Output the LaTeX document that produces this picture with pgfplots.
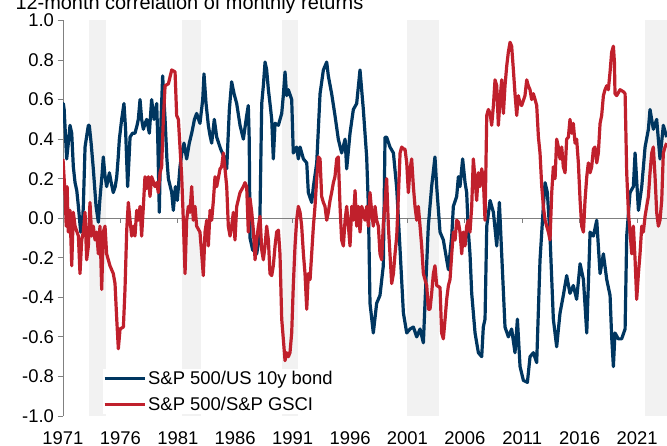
\documentclass[border=0pt]{standalone}
\usepackage{fontspec}
\setmainfont{Liberation Sans}
\usepackage{pgfplots}
\usepackage{pgfplotstable}
\pgfplotsset{compat=1.18}

\definecolor{bondblue}{HTML}{003660}
\definecolor{gscired}{HTML}{C0202C}
\definecolor{bandgray}{HTML}{F2F2F2}
\definecolor{axisgray}{HTML}{808080}

% 12m rolling correlation, S&P 500 vs US 10y bond
\pgfplotstableread{
year corr
1971.00 0.50
1971.03 0.58
1971.10 0.55
1971.17 0.47
1971.32 0.30
1971.50 0.40
1971.61 0.47
1971.76 0.43
1971.90 0.26
1972.05 0.18
1972.20 0.14
1972.34 0.06
1972.54 -0.07
1972.70 -0.02
1972.77 0.06
1972.92 0.36
1973.10 0.43
1973.21 0.47
1973.29 0.47
1973.45 0.38
1973.64 0.25
1973.88 0.06
1974.08 -0.02
1974.22 0.10
1974.40 0.22
1974.51 0.31
1974.65 0.22
1974.80 0.16
1975.04 0.23
1975.20 0.18
1975.38 0.13
1975.55 0.16
1975.68 0.21
1975.80 0.30
1975.91 0.40
1976.11 0.50
1976.31 0.58
1976.45 0.45
1976.63 0.16
1976.75 0.30
1976.84 0.41
1977.05 0.43
1977.27 0.43
1977.45 0.47
1977.56 0.50
1977.71 0.60
1977.85 0.50
1978.00 0.45
1978.15 0.48
1978.29 0.50
1978.52 0.43
1978.72 0.60
1978.93 0.50
1979.16 0.58
1979.25 0.41
1979.39 0.03
1979.54 0.50
1979.68 0.72
1979.89 0.50
1980.05 0.30
1980.18 0.20
1980.47 0.13
1980.61 0.04
1980.79 0.16
1980.96 0.09
1981.19 0.26
1981.35 0.33
1981.54 0.38
1981.77 0.30
1982.00 0.38
1982.21 0.43
1982.45 0.50
1982.64 0.53
1982.93 0.48
1983.17 0.60
1983.28 0.73
1983.46 0.58
1983.66 0.47
1983.80 0.42
1983.95 0.38
1984.18 0.50
1984.39 0.41
1984.73 0.35
1985.03 0.31
1985.26 0.25
1985.49 0.55
1985.69 0.69
1985.90 0.63
1986.13 0.58
1986.42 0.47
1986.71 0.40
1987.00 0.52
1987.14 0.57
1987.22 0.40
1987.29 -0.10
1987.52 -0.16
1987.87 -0.18
1988.10 -0.10
1988.16 0.03
1988.31 0.58
1988.45 0.67
1988.60 0.79
1988.74 0.75
1988.89 0.65
1989.03 0.58
1989.18 0.50
1989.32 0.30
1989.47 0.48
1989.76 0.47
1990.05 0.53
1990.19 0.62
1990.34 0.74
1990.48 0.62
1990.63 0.65
1990.92 0.60
1991.06 0.33
1991.35 0.36
1991.50 0.30
1991.65 0.36
1991.94 0.30
1992.23 0.28
1992.37 0.13
1992.66 0.08
1992.81 0.16
1993.10 0.28
1993.39 0.63
1993.68 0.75
1993.97 0.79
1994.11 0.72
1994.40 0.63
1994.69 0.52
1994.98 0.40
1995.27 0.33
1995.57 0.40
1995.71 0.25
1996.00 0.43
1996.29 0.55
1996.58 0.58
1996.87 0.75
1997.16 0.55
1997.45 0.31
1997.60 0.06
1997.74 -0.43
1998.03 -0.58
1998.32 -0.43
1998.61 -0.39
1998.90 -0.24
1999.05 0.41
1999.19 0.41
1999.48 0.36
1999.78 0.33
2000.07 0.15
2000.36 -0.16
2000.65 -0.48
2000.94 -0.58
2001.23 -0.56
2001.52 -0.55
2001.81 -0.60
2002.10 -0.56
2002.39 -0.63
2002.53 -0.43
2002.82 -0.04
2003.11 0.16
2003.40 0.31
2003.55 0.16
2003.84 -0.07
2004.13 -0.11
2004.42 -0.21
2004.57 -0.26
2004.86 -0.09
2005.00 0.06
2005.29 0.11
2005.44 0.21
2005.58 0.16
2005.81 0.30
2006.02 0.18
2006.16 0.13
2006.31 -0.07
2006.45 -0.18
2006.60 -0.38
2006.89 -0.58
2007.18 -0.68
2007.47 -0.70
2007.61 -0.55
2007.76 -0.51
2007.91 -0.04
2008.20 0.09
2008.49 0.03
2008.78 -0.14
2009.01 0.08
2009.21 -0.18
2009.50 -0.55
2009.79 -0.60
2010.08 -0.56
2010.37 -0.68
2010.58 -0.51
2010.81 -0.75
2011.10 -0.82
2011.45 -0.83
2011.68 -0.70
2011.97 -0.68
2012.26 -0.73
2012.55 -0.21
2012.84 0.06
2012.99 0.18
2013.19 0.13
2013.42 -0.09
2013.71 -0.51
2014.00 -0.65
2014.29 -0.48
2014.58 -0.39
2014.87 -0.29
2015.16 -0.38
2015.45 -0.34
2015.74 -0.41
2016.04 -0.23
2016.33 -0.31
2016.62 -0.58
2016.91 -0.07
2017.20 -0.09
2017.49 -0.01
2017.78 -0.28
2018.07 -0.18
2018.36 -0.31
2018.65 -0.39
2018.79 -0.60
2018.94 -0.75
2019.08 -0.58
2019.37 -0.61
2019.66 -0.61
2019.96 -0.56
2020.10 -0.09
2020.39 0.13
2020.68 0.16
2020.83 0.33
2021.12 0.04
2021.41 0.16
2021.70 0.36
2021.99 0.45
2022.13 0.55
2022.42 0.45
2022.71 0.50
2023.00 0.30
2023.29 0.47
2023.58 0.41
}\bonddata

% 12m rolling correlation, S&P 500 vs S&P GSCI
\pgfplotstableread{
year corr
1971.00 0.30
1971.05 0.25
1971.12 0.18
1971.20 0.10
1971.28 -0.04
1971.36 0.16
1971.46 -0.07
1971.61 0.04
1971.76 -0.24
1971.90 0.03
1972.05 -0.04
1972.34 -0.09
1972.48 -0.28
1972.63 -0.11
1972.77 -0.07
1972.92 0.03
1973.06 -0.21
1973.21 -0.14
1973.35 0.08
1973.50 -0.09
1973.64 -0.04
1973.79 -0.11
1973.93 -0.07
1974.08 -0.18
1974.22 -0.04
1974.37 -0.36
1974.51 -0.07
1974.66 -0.04
1974.80 -0.18
1975.09 -0.24
1975.38 -0.28
1975.53 -0.33
1975.68 -0.51
1975.82 -0.66
1975.97 -0.56
1976.26 -0.55
1976.40 -0.36
1976.55 -0.06
1976.69 0.08
1976.84 -0.01
1976.98 -0.09
1977.13 -0.04
1977.27 -0.09
1977.42 0.04
1977.56 -0.01
1977.71 0.06
1977.85 -0.09
1978.00 0.06
1978.14 0.21
1978.29 0.15
1978.43 0.21
1978.58 0.11
1978.72 0.21
1979.01 0.16
1979.16 0.18
1979.30 0.13
1979.45 0.23
1979.59 0.26
1979.74 0.50
1979.89 0.67
1980.18 0.68
1980.47 0.75
1980.76 0.74
1980.90 0.52
1981.05 0.50
1981.19 0.36
1981.34 0.21
1981.48 -0.01
1981.63 -0.28
1981.77 -0.01
1981.92 0.06
1982.06 0.03
1982.21 0.16
1982.35 -0.01
1982.50 0.06
1982.64 -0.04
1982.93 -0.07
1983.08 -0.18
1983.22 -0.29
1983.37 -0.07
1983.52 -0.01
1983.66 -0.14
1983.81 0.04
1983.95 -0.01
1984.10 0.09
1984.24 0.21
1984.39 0.16
1984.68 0.25
1984.82 0.26
1984.97 0.33
1985.11 0.25
1985.26 0.16
1985.40 -0.04
1985.55 -0.09
1985.69 -0.04
1985.84 0.03
1985.98 -0.11
1986.13 0.06
1986.42 0.13
1986.71 0.16
1986.85 0.18
1987.00 0.16
1987.14 -0.07
1987.29 0.10
1987.44 0.03
1987.58 -0.06
1987.73 -0.21
1987.87 -0.11
1988.02 -0.04
1988.16 0.01
1988.31 -0.16
1988.45 -0.21
1988.60 -0.14
1988.74 -0.04
1988.89 -0.11
1989.03 -0.28
1989.18 -0.29
1989.32 -0.24
1989.47 -0.14
1989.61 -0.07
1989.76 -0.06
1989.90 -0.18
1990.05 -0.51
1990.19 -0.61
1990.34 -0.72
1990.48 -0.68
1990.63 -0.70
1990.77 -0.68
1990.92 -0.58
1991.06 -0.34
1991.21 -0.14
1991.35 -0.01
1991.50 0.06
1991.65 0.03
1991.79 -0.04
1991.94 -0.18
1992.08 -0.28
1992.23 -0.46
1992.37 -0.28
1992.52 -0.31
1992.66 -0.18
1992.81 -0.04
1992.95 0.06
1993.10 0.20
1993.24 0.31
1993.39 0.30
1993.53 0.11
1993.68 0.08
1993.82 0.06
1993.97 -0.01
1994.11 0.03
1994.26 0.09
1994.40 0.13
1994.55 0.18
1994.69 0.21
1994.84 0.30
1994.98 0.31
1995.13 0.06
1995.27 -0.11
1995.42 -0.14
1995.57 -0.01
1995.71 0.06
1995.86 -0.04
1996.00 -0.14
1996.15 0.06
1996.29 -0.01
1996.44 0.14
1996.58 -0.04
1996.73 0.06
1996.87 -0.07
1997.02 0.06
1997.16 0.03
1997.31 -0.01
1997.45 0.06
1997.60 -0.04
1997.74 0.13
1997.89 0.03
1998.03 -0.04
1998.18 0.06
1998.32 -0.01
1998.47 -0.04
1998.61 -0.18
1998.76 -0.21
1998.90 -0.03
1999.05 0.08
1999.19 0.20
1999.34 -0.04
1999.48 -0.18
1999.63 -0.33
1999.78 -0.28
1999.92 -0.18
2000.07 -0.09
2000.21 0.11
2000.36 0.33
2000.50 0.36
2000.65 0.35
2000.79 0.35
2000.94 0.28
2001.08 0.13
2001.23 0.25
2001.37 0.30
2001.52 0.16
2001.66 0.06
2001.81 -0.01
2001.95 0.06
2002.10 -0.04
2002.24 -0.14
2002.39 -0.28
2002.53 -0.31
2002.68 -0.34
2002.82 -0.46
2002.97 -0.46
2003.11 -0.38
2003.26 -0.28
2003.40 -0.24
2003.55 -0.34
2003.84 -0.35
2003.98 -0.58
2004.13 -0.61
2004.28 -0.51
2004.42 -0.41
2004.57 -0.34
2004.71 -0.31
2004.86 -0.18
2005.00 -0.07
2005.15 -0.11
2005.29 -0.01
2005.44 -0.02
2005.58 -0.07
2005.73 -0.18
2005.87 -0.07
2006.02 -0.14
2006.16 -0.04
2006.31 -0.01
2006.45 -0.07
2006.60 0.06
2006.74 0.30
2006.89 0.20
2007.03 0.09
2007.18 0.23
2007.32 0.16
2007.47 0.25
2007.61 0.20
2007.76 -0.01
2007.91 0.52
2008.05 0.55
2008.20 0.53
2008.34 0.47
2008.49 0.57
2008.63 0.70
2008.78 0.67
2008.92 0.47
2009.07 0.60
2009.21 0.70
2009.36 0.53
2009.50 0.67
2009.65 0.77
2009.79 0.84
2009.94 0.89
2010.08 0.87
2010.23 0.75
2010.37 0.63
2010.52 0.52
2010.66 0.62
2010.81 0.58
2010.95 0.57
2011.24 0.62
2011.39 0.70
2011.53 0.67
2011.68 0.65
2011.82 0.60
2011.97 0.63
2012.12 0.60
2012.26 0.57
2012.41 0.41
2012.55 0.33
2012.70 0.16
2012.84 0.06
2012.99 -0.01
2013.13 -0.04
2013.28 -0.07
2013.42 -0.11
2013.57 0.13
2013.71 0.26
2013.86 0.20
2014.00 0.40
2014.15 0.36
2014.29 0.30
2014.44 0.36
2014.58 0.26
2014.73 0.23
2014.87 0.40
2015.02 0.41
2015.16 0.50
2015.31 0.43
2015.45 0.48
2015.60 0.38
2015.74 0.40
2015.89 0.28
2016.04 0.09
2016.18 -0.04
2016.33 -0.07
2016.47 0.09
2016.62 0.21
2016.76 0.28
2016.91 0.23
2017.05 0.26
2017.20 0.35
2017.34 0.36
2017.49 0.28
2017.63 0.33
2017.78 0.48
2017.92 0.52
2018.07 0.62
2018.21 0.65
2018.36 0.67
2018.50 0.65
2018.65 0.74
2018.79 0.84
2018.94 0.87
2019.03 0.79
2019.08 0.63
2019.23 0.62
2019.52 0.65
2019.81 0.64
2019.96 0.63
2020.10 0.23
2020.25 0.03
2020.39 -0.07
2020.54 -0.18
2020.68 -0.04
2020.83 -0.21
2020.97 -0.41
2021.12 -0.28
2021.26 -0.18
2021.41 -0.04
2021.55 -0.07
2021.70 0.01
2021.84 0.06
2021.99 0.11
2022.13 0.23
2022.28 0.33
2022.42 0.36
2022.57 0.21
2022.71 0.03
2022.86 -0.04
2023.00 -0.01
2023.15 0.09
2023.29 0.33
2023.44 0.36
2023.58 0.38
}\gscidata

\begin{document}
\begin{tikzpicture}
\begin{axis}[
    at={(63bp,30bp)}, anchor=south west,
    scale only axis, width=604bp, height=395.5bp,
    xmin=1971, xmax=2023.61, ymin=-1, ymax=1,
    axis lines*=left,
    x axis line style={draw=none},
    y axis line style={axisgray, line width=0.8bp},
    xtick={1971,1976,1981,1986,1991,1996,2001,2006,2011,2016,2021},
    xticklabels={1971,1976,1981,1986,1991,1996,2001,2006,2011,2016,2021},
    ytick={-1,-0.8,-0.6,-0.4,-0.2,0,0.2,0.4,0.6,0.8,1},
    yticklabels={-1.0,-0.8,-0.6,-0.4,-0.2,0.0,0.2,0.4,0.6,0.8,1.0},
    tick align=outside,
    major tick length=5.5bp,
    x tick style={draw=none},
    y tick style={axisgray, line width=0.8bp},
    ticklabel style={font=\fontsize{18.5}{22}\selectfont},
    xticklabel style={yshift=-7bp},
    unbounded coords=jump,
    legend style={at={(axis description cs:0.0662,0.118)}, anchor=north west,
        draw=none, fill=white, inner sep=0pt, outer sep=0pt,
        row sep=6.5bp, column sep=0pt, nodes={inner sep=2bp},
        font=\fontsize{18.5}{22}\selectfont},
    legend cell align=left,
    legend image code/.code={\draw[#1, line width=3.2bp] (0bp,0bp) -- (40bp,0bp);},
]
% shaded periods
\addplot[fill=bandgray, draw=none, forget plot] coordinates {(1973.26,-1) (1973.26,1) (1974.75,1) (1974.75,-1)};
\addplot[fill=bandgray, draw=none, forget plot] coordinates {(1981.37,-1) (1981.37,1) (1983.02,1) (1983.02,-1)};
\addplot[fill=bandgray, draw=none, forget plot] coordinates {(1990.08,-1) (1990.08,1) (1991.47,1) (1991.47,-1)};
\addplot[fill=bandgray, draw=none, forget plot] coordinates {(2000.97,-1) (2000.97,1) (2003.75,1) (2003.75,-1)};
\addplot[fill=bandgray, draw=none, forget plot] coordinates {(2021.70,-1) (2021.70,1) (2024,1) (2024,-1)};
% zero line with its ticks
\addplot[axisgray, line width=0.9bp, forget plot] coordinates {(1971,0) (2023.61,0)};
\addplot[axisgray, line width=0.8bp, forget plot] coordinates {
    (1976,0) (1976,-0.022) (1976,nan)
    (1981,0) (1981,-0.022) (1981,nan)
    (1986,0) (1986,-0.022) (1986,nan)
    (1991,0) (1991,-0.022) (1991,nan)
    (1996,0) (1996,-0.022) (1996,nan)
    (2001,0) (2001,-0.022) (2001,nan)
    (2006,0) (2006,-0.022) (2006,nan)
    (2011,0) (2011,-0.022) (2011,nan)
    (2016,0) (2016,-0.022) (2016,nan)
    (2021,0) (2021,-0.022)};
\addplot[bondblue, line width=3.2bp, line join=round] table[x=year, y=corr] {\bonddata};
\addlegendentry{S\&P 500/US 10y bond}
\addplot[gscired, line width=3.2bp, line join=round] table[x=year, y=corr] {\gscidata};
\addlegendentry{S\&P 500/S\&P GSCI}
\end{axis}
\node[anchor=base west, font=\fontsize{20}{24}\selectfont] at (12bp,436.5bp) {12-month correlation of monthly returns};
\pgfresetboundingbox
\path (0bp,0bp) rectangle (667bp,446bp);
\end{tikzpicture}
\end{document}
